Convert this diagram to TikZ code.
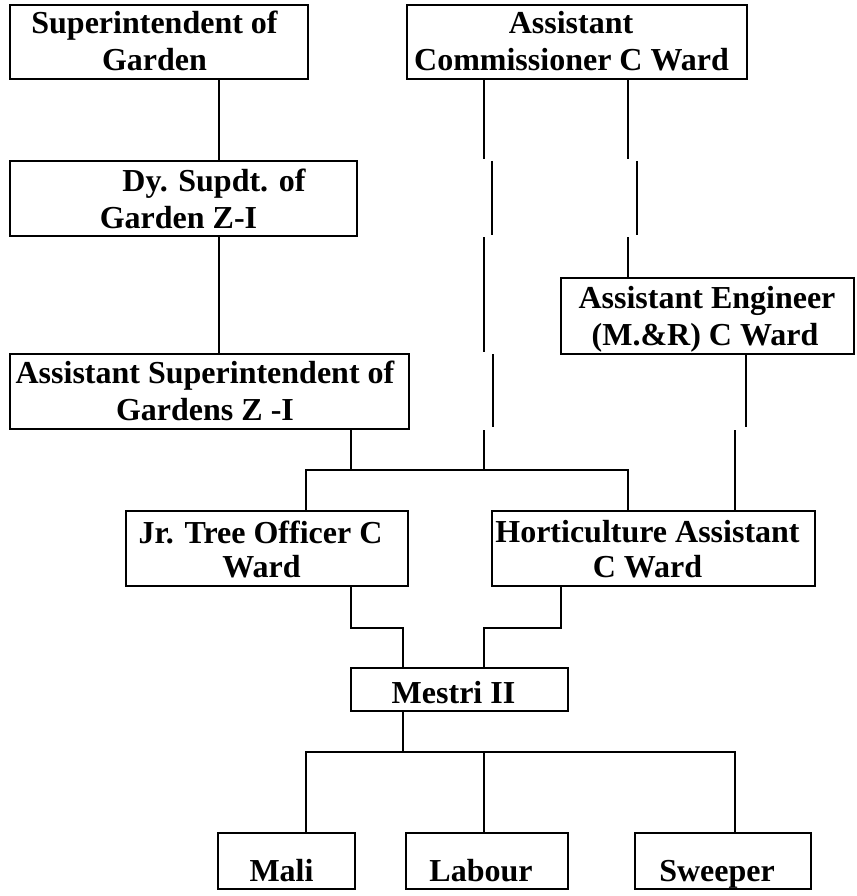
\documentclass[tikz,border=0pt]{standalone}
\usepackage{fontspec}
\setmainfont{Liberation Serif}
\tikzset{
  obox/.style={draw, line width=2pt, inner sep=0pt, fill=none},
  lbl/.style={inner sep=0pt, anchor=base, font=\bfseries\fontsize{32}{37}\selectfont},
  conn/.style={line width=2pt},
}
\newcommand\mybox[5]{\node[obox, minimum width={(#4-#2)*1pt}, minimum height={(#5-#3)*1pt}] (#1) at ({(#2+#4)/2},{(#3+#5)/2}) {};}
\begin{document}
\begin{tikzpicture}[x=1pt,y=-1pt]
\useasboundingbox (0,0) rectangle (856,896);
\fill[white] (0,0) rectangle (856,896);
% boxes
\mybox{sg}{10}{5}{308}{79}
\mybox{ac}{407}{5}{747}{79}
\mybox{ds}{10}{161}{357}{236}
\mybox{ae}{561}{278}{854}{354}
\mybox{as}{10}{354}{409}{429}
\mybox{jt}{126}{511}{408}{586}
\mybox{ha}{492}{511}{815}{586}
\mybox{me}{351}{668}{568}{711}
\mybox{ma}{218}{833}{355}{889}
\mybox{la}{406}{833}{568}{889}
\mybox{sw}{635}{833}{811}{889}
% texts
\node[lbl] (sg1) at (154.5,34) {Superintendent of};
\node[lbl] (sg2) at (154.5,71) {Garden};
\node[lbl] (ac1) at (571,34) {Assistant};
\node[lbl] (ac2) at (571.5,71) {Commissioner C Ward};
\node[lbl] (ds1) at (214,191) {Dy. Supdt. of};
\node[lbl] (ds2) at (178.5,228) {Garden Z-I};
\node[lbl] (ae1) at (707,308) {Assistant Engineer};
\node[lbl] (ae2) at (705,345) {(M.\&R) C Ward};
\node[lbl] (as1) at (205,383) {Assistant Superintendent of};
\node[lbl] (as2) at (205,420) {Gardens Z -I};
\node[lbl] (jt1) at (260.5,543) {Jr. Tree Officer C};
\node[lbl] (jt2) at (261.5,577) {Ward};
\node[lbl] (ha1) at (647.5,542) {Horticulture Assistant};
\node[lbl] (ha2) at (647.5,577) {C Ward};
\node[lbl] (me1) at (453.5,703) {Mestri II};
\node[lbl] (ma1) at (281.5,881) {Mali};
\node[lbl] (la1) at (481,881) {Labour};
\node[lbl] (sw1) at (717,881) {Sweeper};
% column coordinates
\coordinate (cA) at (219,0);
\coordinate (cB) at (484,0);
\coordinate (cC) at (628,0);
\coordinate (cD) at (746,0);
\coordinate (cD2) at (735,0);
\coordinate (cE) at (351,0);
\coordinate (cF) at (306,0);
\coordinate (cG) at (403,0);
\coordinate (cH) at (561,0);
% break points of the broken lines
\coordinate (L1b) at (484,159);
\coordinate (L2t) at (492,161);
\coordinate (L2b) at (492,235);
\coordinate (L3t) at (484,237);
\coordinate (L3b) at (484,352);
\coordinate (L4t) at (493,354);
\coordinate (L4b) at (493,427);
\coordinate (L5t) at (484,430);
\coordinate (R1b) at (628,159);
\coordinate (R2t) at (637,161);
\coordinate (R2b) at (637,235);
\coordinate (R3t) at (628,237);
\coordinate (E1b) at (746,427);
\coordinate (E2t) at (735,430);
% junctions
\coordinate (jl) at (306,470);
\coordinate (jm) at (484,470);
\coordinate (jr) at (628,470);
\coordinate (kl) at (351,628);
\coordinate (kl2) at (403,628);
\coordinate (kr) at (561,628);
\coordinate (kr2) at (484,628);
\coordinate (ml) at (306,752);
\coordinate (mm) at (403,752);
\coordinate (mr) at (735,752);
% connectors
\draw[conn] (sg.south -| cA) -- (ds.north -| cA);
\draw[conn] (ds.south -| cA) -- (as.north -| cA);
\draw[conn] (ac.south -| cB) -- (L1b);
\draw[conn] (L2t) -- (L2b);
\draw[conn] (L3t) -- (L3b);
\draw[conn] (L4t) -- (L4b);
\draw[conn] (L5t) -- (jm);
\draw[conn] (ac.south -| cC) -- (R1b);
\draw[conn] (R2t) -- (R2b);
\draw[conn] (R3t) -- (ae.north -| cC);
\draw[conn] (ae.south -| cD) -- (E1b);
\draw[conn] (E2t) -- (ha.north -| cD2);
\draw[conn] (as.south -| cE) -- (cE |- jl);
\draw[conn] (jt.north -| cF) -- (jl) -- (jr) -- (ha.north -| cC);
\draw[conn] (jt.south -| cE) -- (kl) -- (kl2) -- (me.north -| cG);
\draw[conn] (ha.south -| cH) -- (kr) -- (kr2) -- (me.north -| cB);
\draw[conn] (me.south -| cG) -- (mm);
\draw[conn] (ma.north -| cF) -- (ml) -- (mr) -- (sw.north -| mr);
\draw[conn] (la.north -| cB) -- (cB |- ml);
\end{tikzpicture}
\end{document}
